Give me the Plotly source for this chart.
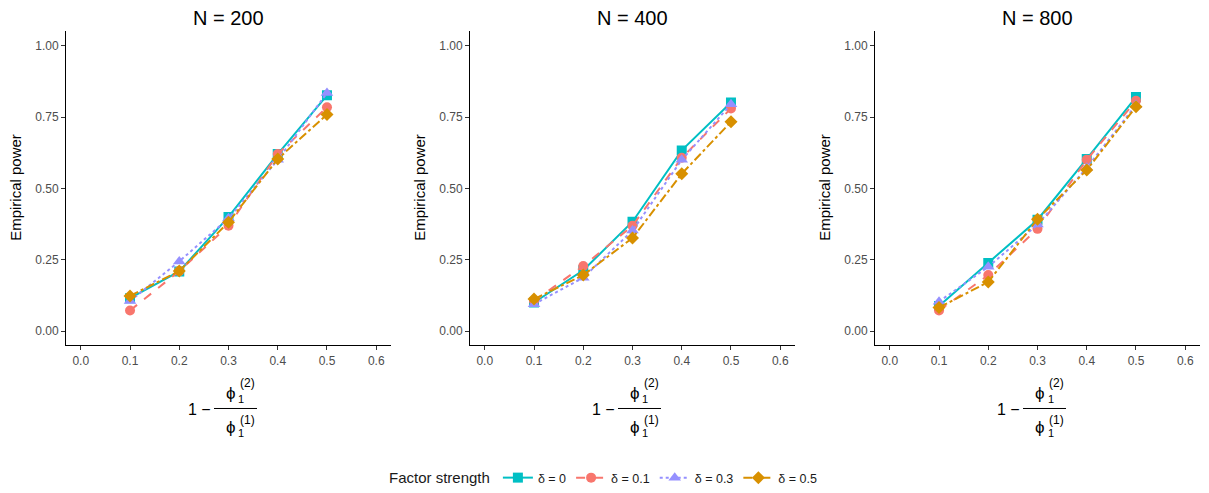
import plotly.graph_objects as go

W, H = 1209, 493

x_vals = [0.1, 0.2, 0.3, 0.4, 0.5]
panels = ["N = 200", "N = 400", "N = 800"]
series_names = ["δ = 0", "δ = 0.1", "δ = 0.3", "δ = 0.5"]

# Empirical power, per panel, per series
power_N200 = {
    "δ = 0":   [0.115, 0.209, 0.400, 0.620, 0.826],
    "δ = 0.1": [0.072, 0.210, 0.369, 0.620, 0.784],
    "δ = 0.3": [0.105, 0.244, 0.395, 0.600, 0.834],
    "δ = 0.5": [0.123, 0.210, 0.381, 0.603, 0.759],
}
power_N400 = {
    "δ = 0":   [0.100, 0.213, 0.383, 0.633, 0.801],
    "δ = 0.1": [0.105, 0.228, 0.369, 0.607, 0.780],
    "δ = 0.3": [0.094, 0.187, 0.352, 0.600, 0.795],
    "δ = 0.5": [0.112, 0.196, 0.326, 0.551, 0.733],
}
power_N800 = {
    "δ = 0":   [0.088, 0.238, 0.390, 0.603, 0.820],
    "δ = 0.1": [0.072, 0.196, 0.358, 0.600, 0.807],
    "δ = 0.3": [0.103, 0.225, 0.373, 0.572, 0.792],
    "δ = 0.5": [0.082, 0.172, 0.392, 0.564, 0.786],
}
panel_data = [power_N200, power_N400, power_N800]

x_tickvals = [0.0, 0.1, 0.2, 0.3, 0.4, 0.5, 0.6]
x_ticktext = ["0.0", "0.1", "0.2", "0.3", "0.4", "0.5", "0.6"]
y_tickvals = [0.0, 0.25, 0.5, 0.75, 1.0]
y_ticktext = ["0.00", "0.25", "0.50", "0.75", "1.00"]

colors = {"δ = 0": "#00BFC4", "δ = 0.1": "#F8766D", "δ = 0.3": "#9590FF", "δ = 0.5": "#D89000"}
dashes = {"δ = 0": "solid", "δ = 0.1": "dash", "δ = 0.3": "dot", "δ = 0.5": "dashdot"}
symbols = {"δ = 0": "square", "δ = 0.1": "circle", "δ = 0.3": "triangle-up", "δ = 0.5": "diamond"}
msize = {"δ = 0": 10, "δ = 0.1": 10, "δ = 0.3": 11, "δ = 0.5": 10}

FONT = "Liberation Sans, Arial, sans-serif"

# panel pixel geometry
panel_left = [66, 470, 875]
panel_w = 325
y_top, y_bot = 31.6, 347.4

fig = go.Figure()
for p in range(3):
    ax = "" if p == 0 else str(p + 1)
    for s in series_names:
        fig.add_trace(go.Scatter(
            x=x_vals, y=panel_data[p][s], name=s,
            mode="lines+markers",
            line=dict(color=colors[s], dash=dashes[s], width=2),
            marker=dict(color=colors[s], symbol=symbols[s], size=msize[s]),
            legendgroup=s, showlegend=(p == 0),
            xaxis="x" + ax, yaxis="y" + ax,
        ))

axis_common = dict(showline=True, linecolor="black", linewidth=1, ticks="outside",
                   ticklen=4, tickcolor="#333333", showgrid=False, zeroline=False,
                   tickfont=dict(family=FONT, size=12, color="#4D4D4D"))

layout = dict(
    width=W, height=H, margin=dict(l=0, r=0, t=0, b=0),
    paper_bgcolor="white", plot_bgcolor="white",
    font=dict(family=FONT),
    legend=dict(orientation="h", x=0.5, xanchor="center", y=1 - 481 / H, yanchor="middle",
                title=dict(text="Factor strength", side="left", font=dict(size=15, color="#1a1a1a")),
                font=dict(size=12.5, color="#1a1a1a"), itemwidth=30, tracegroupgap=0),
)
annotations = []
shapes = []
for p in range(3):
    ax = "" if p == 0 else str(p + 1)
    x0 = panel_left[p] / W
    x1 = (panel_left[p] + panel_w) / W
    layout["xaxis" + ax] = dict(domain=[x0, x1], range=[-0.03, 0.63], tickvals=x_tickvals,
                                ticktext=x_ticktext, anchor="y" + ax, **axis_common)
    layout["yaxis" + ax] = dict(domain=[1 - y_bot / H, 1 - y_top / H], range=[-0.05, 1.05],
                                tickvals=y_tickvals, ticktext=y_ticktext, anchor="x" + ax,
                                **axis_common)
    cx = (panel_left[p] + panel_w / 2) / W
    annotations.append(dict(text=panels[p], x=cx, y=1 - 18 / H, xref="paper", yref="paper",
                            showarrow=False, font=dict(size=20, color="black", family=FONT),
                            xanchor="center", yanchor="middle"))
    annotations.append(dict(text="Empirical power", x=(panel_left[p] - 50) / W, y=1 - 189 / H,
                            xref="paper", yref="paper", showarrow=False, textangle=-90,
                            font=dict(size=15, color="black", family=FONT),
                            xanchor="center", yanchor="middle"))
    sh = panel_left[p] - 66

    def ann(txt, px, py, size, anchor="left"):
        annotations.append(dict(text=txt, x=(px + sh) / W, y=1 - py / H, xref="paper", yref="paper",
                                showarrow=False, font=dict(size=size, color="black", family=FONT),
                                xanchor=anchor, yanchor="middle"))
    ann("1 −", 213, 412, 16, "right")
    ann("ϕ", 224, 396, 17)
    ann("1", 236.5, 401, 11)
    ann("(2)", 238, 385, 12)
    ann("ϕ", 224, 430, 17)
    ann("1", 236.5, 436, 11)
    ann("(1)", 238, 423, 12)
    shapes.append(dict(type="line", xref="paper", yref="paper",
                       x0=(214 + sh) / W, x1=(257 + sh) / W, y0=1 - 411 / H, y1=1 - 411 / H,
                       line=dict(color="black", width=1)))
layout["annotations"] = annotations
layout["shapes"] = shapes
fig.update_layout(**layout)
fig.write_html("out.html", config={"displayModeBar": False},
               post_script="document.body.style.margin='0';")
